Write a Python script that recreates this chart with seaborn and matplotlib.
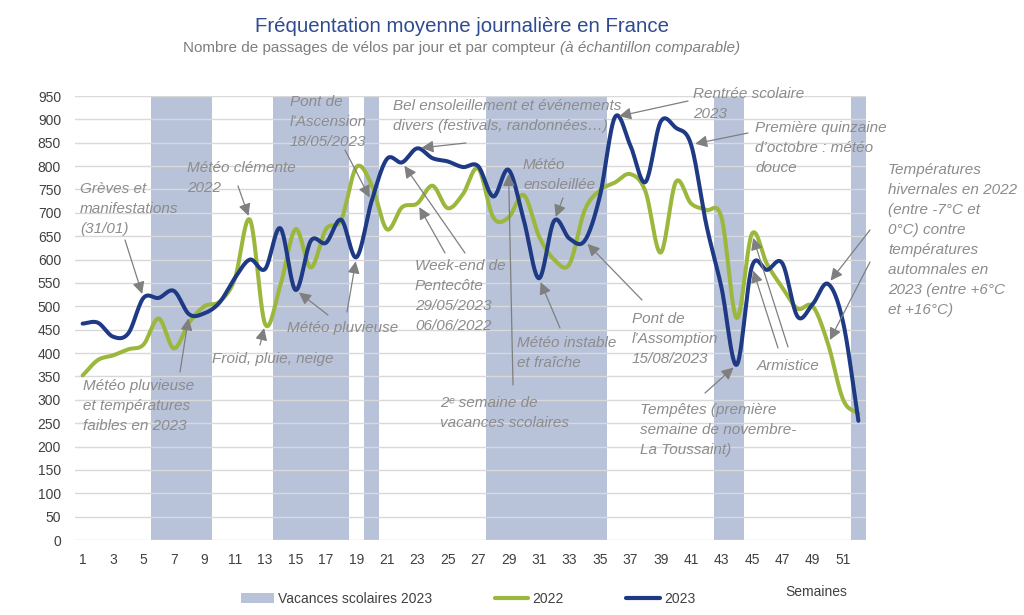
import numpy as np
import pandas as pd
import matplotlib
matplotlib.use("Agg")
import matplotlib.pyplot as plt
from matplotlib.patches import Patch
from matplotlib.lines import Line2D
import seaborn as sns

# ---------------- data ----------------
weeks = list(range(1, 53))
values_2022 = [352, 385, 395, 408, 418, 474, 410, 465, 500, 510,
               558, 685, 462, 545, 665, 583, 665, 685, 798, 760,
               665, 712, 720, 758, 710, 740, 795, 690, 690, 738,
               650, 600, 590, 705, 748, 765, 783, 746, 615, 766,
               720, 706, 690, 475, 655, 590, 540, 495, 500, 420,
               300, 270]
values_2023 = [463, 465, 435, 442, 518, 518, 533, 483, 485, 508,
               560, 600, 580, 667, 535, 640, 636, 685, 605, 725,
               815, 808, 838, 817, 810, 798, 800, 735, 792, 685,
               560, 683, 645, 640, 735, 905, 845, 766, 895, 882,
               846, 675, 540, 375, 585, 578, 592, 478, 505, 548,
               465, 255]
vacation_weeks_2023 = [(6, 9), (14, 18), (20, 20), (28, 35), (43, 44), (52, 52)]
y_ticks = list(range(0, 951, 50))
x_ticks = list(range(1, 52, 2))

title = "Fréquentation moyenne journalière en France"
subtitle_main = "Nombre de passages de vélos par jour et par compteur "
subtitle_italic = "(à échantillon comparable)"
legend_labels = ["Vacances scolaires 2023", "2022", "2023"]
x_label = "Semaines"

# annotations: text, text position (px, top-left), list of (arrow start px, week, series)
annotations = [
    ("Grèves et\nmanifestations\n(31/01)", (80, 182), [((125, 240), 5, "2023")]),
    ("Météo clémente\n2022", (187, 161), [((238, 186), 12, "2022")]),
    ("Pont de\nl\u2019Ascension\n18/05/2023", (290, 95), [((345, 150), 20, "2023")]),
    ("Bel ensoleillement et événements\ndivers (festivals, randonnées…)", (393, 99),
     [((466, 143), 23, "2023")]),
    ("Week-end de\nPentecôte\n29/05/2023\n06/06/2022", (415, 259),
     [((465, 253), 22, "2023"), ((445, 253), 23, "2022")]),
    ("Météo pluvieuse", (287, 321), [((328, 315), 15, "2023"), ((347, 312), 19, "2023")]),
    ("Froid, pluie, neige", (212, 352), [((260, 345), 13, "2022")]),
    ("Météo pluvieuse\net températures\nfaibles en 2023", (83, 379), [((180, 372), 8, "2023")]),
    ("Météo\nensoleillée", (523, 158), [((563, 198), 32, "2023")]),
    ("Météo instable\net fraîche", (517, 336), [((560, 328), 31, "2023")]),
    ("2\u1d49 semaine de\nvacances scolaires", (440, 396), [((513, 385), 29, "2023")]),
    ("Pont de\nl\u2019Assomption\n15/08/2023", (632, 312), [((642, 300), 34, "2023")]),
    ("Rentrée scolaire\n2023", (693, 87), [((688, 101), 36, "2023")]),
    ("Première quinzaine\nd\u2019octobre : météo\ndouce", (755, 121), [((748, 133), 41, "2023")]),
    ("Températures\nhivernales en 2022\n(entre -7°C et\n0°C) contre\ntempératures\nautomnales en\n2023 (entre +6°C\net +16°C)",
     (888, 163), [((870, 230), 50, "2023"), ((870, 262), 50, "2022")]),
    ("Armistice", (757, 359), [((778, 348), 45, "2023"), ((788, 347), 45, "2022")]),
    ("Tempêtes (première\nsemaine de novembre-\nLa Toussaint)", (640, 403), [((705, 393), 44, "2023")]),
]

# ---------------- style ----------------
COL_2022 = "#9bb73c"
COL_2023 = "#1f3a85"
COL_BAND = "#b8c2d9"
COL_NOTE = "#8c8c8c"
COL_TITLE = "#2f4a8f"

sns.set_theme(style="white")
plt.rcParams["font.family"] = ["Liberation Sans", "DejaVu Sans"]

W, H = 1024, 615
fig = plt.figure(figsize=(W / 100, H / 100), dpi=100)
ax = fig.add_axes([75 / W, 1 - 540 / H, (866 - 75) / W, (540 - 96) / H])


def px(x, y):
    return (x / W, 1 - y / H)


def catmull_rom(x, y, n=24):
    pts = np.column_stack([x, y]).astype(float)
    P = np.vstack([2 * pts[0] - pts[1], pts, 2 * pts[-1] - pts[-2]])
    out = []
    t = np.linspace(0, 1, n, endpoint=False)[:, None]
    for i in range(1, len(P) - 2):
        p0, p1, p2, p3 = P[i - 1], P[i], P[i + 1], P[i + 2]
        seg = 0.5 * ((2 * p1) + (-p0 + p2) * t + (2 * p0 - 5 * p1 + 4 * p2 - p3) * t ** 2
                     + (-p0 + 3 * p1 - 3 * p2 + p3) * t ** 3)
        out.append(seg)
    out.append(pts[-1][None])
    return np.vstack(out)


series = {"2022": values_2022, "2023": values_2023}
frames = []
for name, vals in series.items():
    s = catmull_rom(weeks, vals)
    frames.append(pd.DataFrame({"week": s[:, 0], "value": s[:, 1], "series": name}))
df = pd.concat(frames, ignore_index=True)

# vacation bands
for a, b in vacation_weeks_2023:
    ax.axvspan(a - 0.5, b + 0.5, color=COL_BAND, lw=0, zorder=0)

# gridlines
for yt in y_ticks:
    ax.axhline(yt, color="#d9d9d9", lw=1, zorder=0.5)

sns.lineplot(data=df, x="week", y="value", hue="series", palette={"2022": COL_2022, "2023": COL_2023},
             sort=False, estimator=None, linewidth=2.9, legend=False, ax=ax, zorder=3)

ax.set_xlim(0.5, 52.5)
ax.set_ylim(0, 950)
ax.set_xticks(x_ticks)
ax.set_yticks(y_ticks)
ax.tick_params(axis="both", length=0, labelsize=10, colors="#404040")
ax.tick_params(axis="x", pad=9)
ax.tick_params(axis="y", pad=10)
ax.set_xlabel("")
ax.set_ylabel("")
for sp in ax.spines.values():
    sp.set_visible(False)

# annotations
for text, (tx, ty), arrows in annotations:
    fig.text(*px(tx, ty), text, ha="left", va="top", fontsize=11, style="italic",
             color=COL_NOTE, linespacing=1.55)
    for (sx, sy), wk, ser in arrows:
        val = series[ser][wk - 1]
        ax.annotate("", xy=(wk, val), xycoords="data",
                    xytext=px(sx, sy), textcoords="figure fraction",
                    arrowprops=dict(arrowstyle="-|>,head_length=0.6,head_width=0.3",
                                    color="#7f7f7f", lw=0.9, shrinkA=0, shrinkB=3),
                    zorder=5)

# titles
fig.text(*px(462, 27), title, ha="center", va="center", fontsize=14.7, color=COL_TITLE)
t1 = fig.text(*px(183, 48), subtitle_main, ha="left", va="center", fontsize=11, color="#7f7f7f")
ax.annotate(subtitle_italic, xy=(1, 0.5), xycoords=t1, ha="left", va="center",
            fontsize=11, color="#7f7f7f", style="italic", annotation_clip=False)

# legend
handles = [Patch(facecolor=COL_BAND, edgecolor="none"),
           Line2D([], [], color=COL_2022, lw=3),
           Line2D([], [], color=COL_2023, lw=3)]
fig.legend(handles, legend_labels, loc="center", bbox_to_anchor=px(468, 599), ncol=3,
           frameon=False, fontsize=10, handlelength=2.4, handletextpad=0.3,
           columnspacing=4.5, labelcolor="#404040")
fig.text(*px(816, 592), x_label, ha="center", va="center", fontsize=10, color="#404040")

fig.savefig("out.png", dpi=100)
